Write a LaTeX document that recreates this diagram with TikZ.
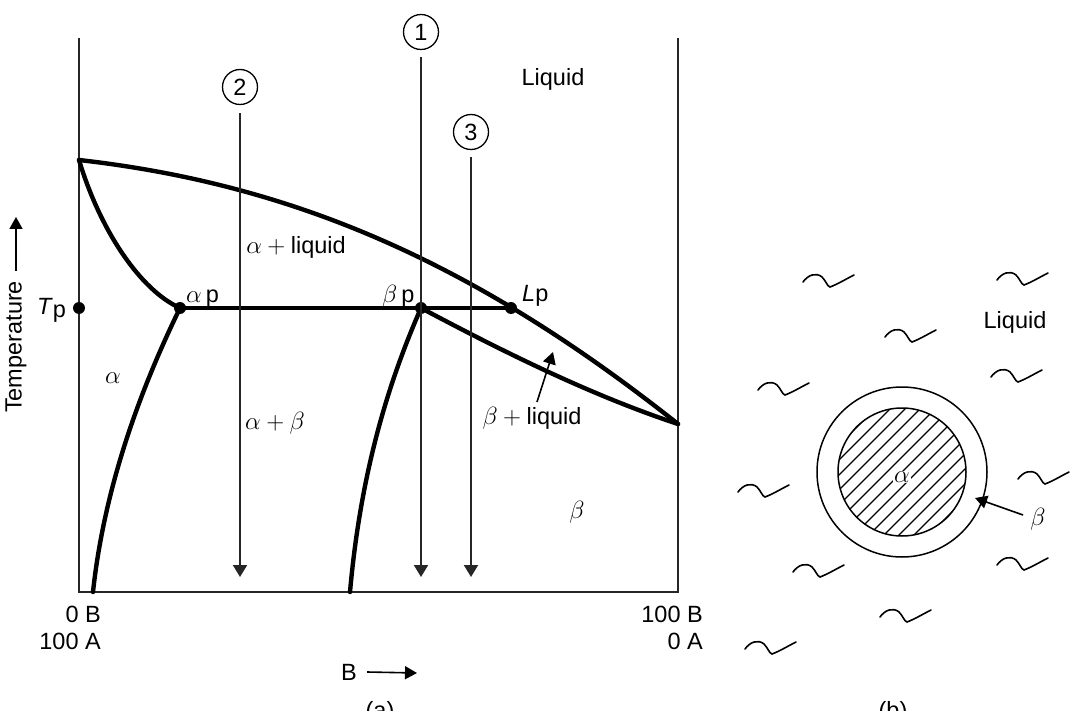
\documentclass[tikz,border=0pt]{standalone}
\usepackage{fontspec}
\setmainfont{Liberation Sans}
\usetikzlibrary{arrows.meta}
\begin{document}
\begin{tikzpicture}[x=1pt,y=-1pt,
  every node/.style={font=\fontsize{23.5}{28}\selectfont, inner sep=0pt},
  axis/.style={line width=2.2pt, draw=black!85},
  phase/.style={line width=4.4pt, line join=round, line cap=round},
  cool/.style={line width=2pt, draw=black!85, -{Triangle[length=12pt,width=14pt]}},
  tiparrow/.style={line width=1.6pt, -{Triangle[length=12pt,width=13pt]}},
  numc/.style={circle, draw, line width=1.3pt, minimum size=35pt},
  dotpt/.style={circle, fill=black, minimum size=12pt},
  squig/.style={line width=1.6pt, line cap=round},
  squiggle/.pic={\draw[squig] (-25,2) .. controls (-20,-5) and (-12,-8) .. (-6,-3) .. controls (-2,1) and (-1,6) .. (2,7) .. controls (10,4) and (18,-1) .. (26,-5);}
]
\useasboundingbox (0,0) rectangle (1071,711);

% ---------- (a) phase diagram ----------
\coordinate (tl) at (79,38);
\coordinate (bl) at (79,592);
\coordinate (tr) at (678,38);
\coordinate (br) at (678,592);
\draw[axis] (tl) -- (bl) -- (br) -- (tr);

\coordinate (Amelt) at (79,160);
\coordinate (Bmelt) at (678,424);
\coordinate (aBot) at (93,592);
\coordinate (bBot) at (350,592);
\node[dotpt] (Tp) at (79,308) {};
\node[dotpt] (ap) at (180,308) {};
\node[dotpt] (bp) at (421,308) {};
\node[dotpt] (Lp) at (511,308) {};

% liquidus
\draw[phase] (Amelt) .. controls (300,185) and (480,267) .. (Bmelt);
% alpha solidus
\draw[phase] (Amelt) .. controls (100,230) and (140,290) .. (ap.center);
% alpha solvus
\draw[phase] (ap.center) .. controls (145,380) and (105,480) .. (aBot);
% beta solvus
\draw[phase] (bp.center) .. controls (385,390) and (360,480) .. (bBot);
% beta solidus
\draw[phase] (bp.center) .. controls (500,350) and (590,395) .. (Bmelt);
% tie line
\draw[phase] (ap.center) -- (Lp.center);

% cooling paths
\node[numc] (c1) at (421,32) {1};
\node[numc] (c2) at (240,87) {2};
\node[numc] (c3) at (471,132) {3};
\coordinate (e1) at (421,577);
\coordinate (e2) at (240,577);
\coordinate (e3) at (471,577);
\draw[cool] ([yshift=-7pt]c1.south) -- (e1);
\draw[cool] ([yshift=-8pt]c2.south) -- (e2);
\draw[cool] ([yshift=-7pt]c3.south) -- (e3);

% labels
\node (liqA) at (553,79) {Liquid};
\node (aliq) at (296,247) {$\alpha+{}$liquid};
\node (ab) at (275,423) {$\alpha+\beta$};
\node (alpha) at (113,378) {$\alpha$};
\node (beta) at (577,512) {$\beta$};
\node (bliq) at (532,418) {$\beta+{}$liquid};
\coordinate (bliqtip) at (553,352);
\draw[tiparrow] (537,402) -- (bliqtip);

\node[anchor=base west] (lap) at (186,303) {$\alpha$\,p};
\node[anchor=base west] (lbp) at (382,303) {$\beta$\,p};
\node[anchor=base west] (lLp) at (522,302) {\textit{L}p};
\node[anchor=base west] (lTp) at (37,315) {\textit{T}\raisebox{-0.12em}{p}};

\node[anchor=base east] (x0B) at (101,622) {0 B};
\node[anchor=base east] (x100A) at (101,649) {100 A};
\node[anchor=base east] (x100B) at (703,622) {100 B};
\node[anchor=base east] (x0A) at (703,649) {0 A};

\node[rotate=90] (temp) at (16,347) {Temperature};
\coordinate (temptip) at (16,217);
\draw[tiparrow] ([yshift=10pt]temp.east) -- (temptip);

\node (Bx) at (349,672) {B};
\coordinate (Bxtip) at (417,673);
\draw[tiparrow] ([xshift=10pt]Bx.east) -- (Bxtip);

\node[anchor=base] (capa) at (380,718) {(a)};

% ---------- (b) microstructure ----------
\coordinate (cc) at (902,472);
\begin{scope}
  \clip (cc) circle (64);
  \foreach \i in {-10,...,10}
    \draw[line width=1.2pt] (902+\i*15-90,472+90) -- (902+\i*15+90,472-90);
\end{scope}
\draw[line width=1.5pt] (cc) circle (64);
\draw[line width=1.5pt] (cc) circle (85);
\node[fill=white, inner sep=1pt] (alphaB) at (902,477) {$\alpha$};
\node (betaB) at (1038,519) {$\beta$};
\coordinate (betatip) at (975,498);
\draw[tiparrow] (1023,515) -- (betatip);
\node (liqB) at (1015,322) {Liquid};

\foreach \p in {(828,280),(1022,278),(910,335),(1016,375),(783,388),(1043,477),(763,490),(1022,563),(818,570),(905,615),(770,647)}
  \pic at \p {squiggle};

\node[anchor=base] (capb) at (893,718) {(b)};
\end{tikzpicture}
\end{document}
